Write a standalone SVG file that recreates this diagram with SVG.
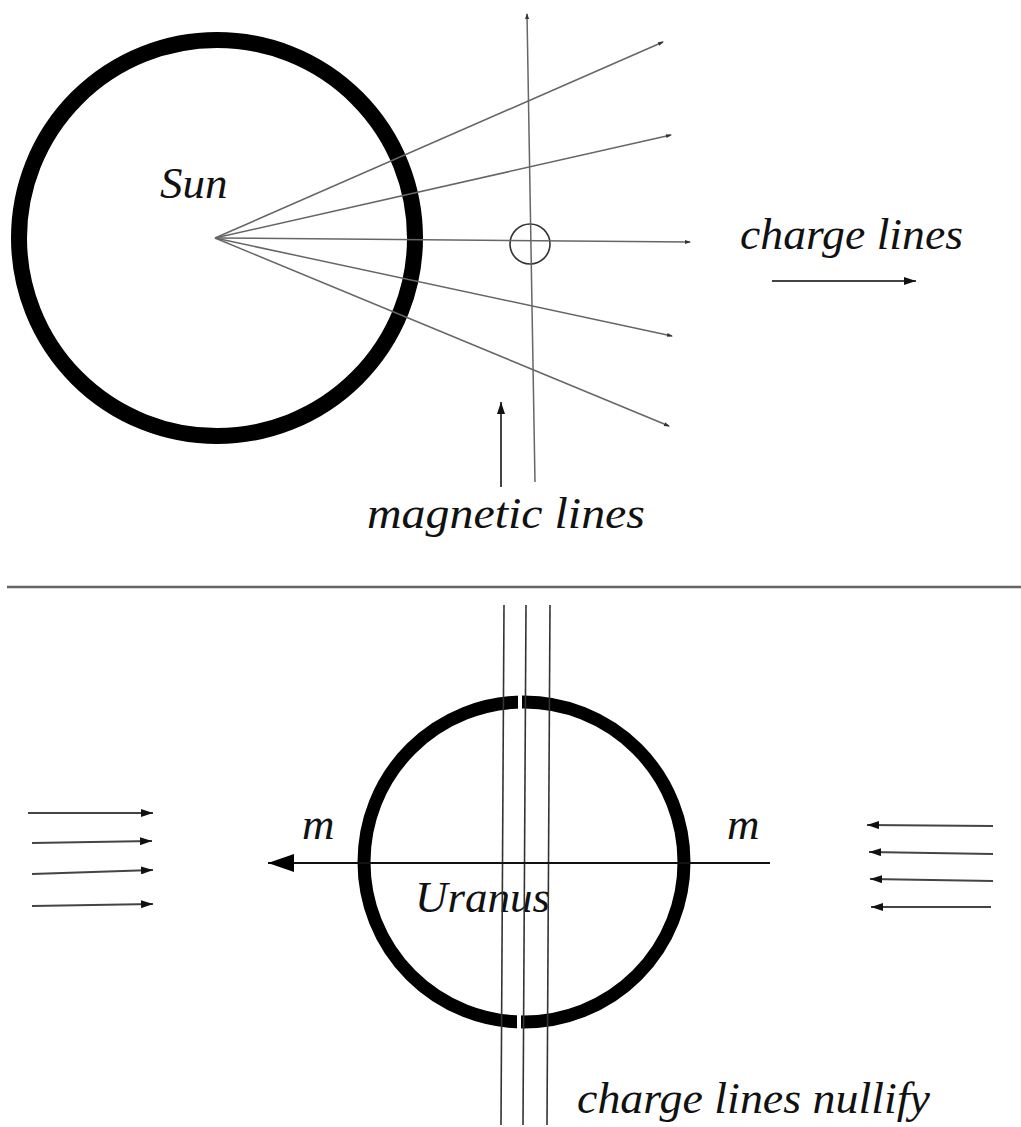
<svg xmlns="http://www.w3.org/2000/svg" width="1021" height="1127" viewBox="0 0 1021 1127">
<defs>
<style>
.t{font-family:"Liberation Serif","Times New Roman",serif;font-style:italic;font-size:45px;fill:#111}
.ray{stroke:#666;stroke-width:1.5;fill:none}
.ring{fill:none;stroke:#000}
.ln{stroke:#333;stroke-width:1.6;fill:none}
.arr{stroke:#444;stroke-width:2;fill:none}
</style>
<marker id="dot" viewBox="0 0 6 6" refX="5" refY="3" markerWidth="6" markerHeight="6" markerUnits="userSpaceOnUse" orient="auto"><path d="M0,1 L6,3 L0,5 Z" fill="#333"/></marker>
<marker id="ah" viewBox="0 0 12 8" refX="12" refY="4" markerWidth="12" markerHeight="8" markerUnits="userSpaceOnUse" orient="auto"><path d="M0,0 L12,4 L0,8 Z" fill="#111"/></marker>
<marker id="big" viewBox="0 0 26 18" refX="26" refY="9" markerWidth="26" markerHeight="18" markerUnits="userSpaceOnUse" orient="auto"><path d="M0,0 L26,9 L0,18 Z" fill="#000"/></marker>
</defs>
<rect width="1021" height="1127" fill="#fff"/>

<g id="sun">
<circle class="ring" cx="217" cy="238" r="198" stroke-width="16"/>
<text class="t" x="160" y="198">Sun</text>
</g>

<g id="probe">
<circle cx="530" cy="244" r="20" fill="none" stroke="#333" stroke-width="1.6"/>
</g>

<g id="uranus">
<circle class="ring" cx="524" cy="862" r="160" stroke-width="13"/>
<rect x="518" y="694" width="4" height="16" fill="#fff"/>
<rect x="517" y="1014" width="4" height="16" fill="#fff"/>
<text class="t" x="415" y="912">Uranus</text>
</g>

<g id="connectors">
<line class="ray" x1="215" y1="238" x2="663" y2="42" marker-end="url(#dot)"/>
<line class="ray" x1="215" y1="238" x2="671" y2="135" marker-end="url(#dot)"/>
<line class="ray" x1="215" y1="238" x2="690" y2="242" marker-end="url(#dot)"/>
<line class="ray" x1="215" y1="238" x2="672" y2="336" marker-end="url(#dot)"/>
<line class="ray" x1="215" y1="238" x2="669" y2="426" marker-end="url(#dot)"/>
<line class="ray" x1="535" y1="482" x2="527" y2="14" marker-end="url(#dot)"/>
<line class="arr" x1="501" y1="487" x2="501" y2="402" marker-end="url(#ah)"/>
<line class="arr" x1="772" y1="281" x2="916" y2="281" marker-end="url(#ah)"/>
<line x1="7" y1="587" x2="1021" y2="587" stroke="#666" stroke-width="2.5"/>
<line class="ln" x1="504" y1="605" x2="501" y2="1125"/>
<line class="ln" x1="526" y1="605" x2="523" y2="1125"/>
<line class="ln" x1="550" y1="605" x2="547" y2="1125"/>
<line x1="770" y1="863" x2="268" y2="863" stroke="#111" stroke-width="2" marker-end="url(#big)"/>
<line class="arr" x1="28" y1="813" x2="153" y2="813" marker-end="url(#ah)"/>
<line class="arr" x1="32" y1="843" x2="152" y2="841" marker-end="url(#ah)"/>
<line class="arr" x1="32" y1="874" x2="153" y2="870" marker-end="url(#ah)"/>
<line class="arr" x1="32" y1="906" x2="153" y2="904" marker-end="url(#ah)"/>
<line class="arr" x1="993" y1="826" x2="867" y2="825" marker-end="url(#ah)"/>
<line class="arr" x1="993" y1="854" x2="869" y2="852" marker-end="url(#ah)"/>
<line class="arr" x1="993" y1="881" x2="870" y2="879" marker-end="url(#ah)"/>
<line class="arr" x1="991" y1="907" x2="871" y2="907" marker-end="url(#ah)"/>
</g>

<g id="labels">
<text class="t" x="740" y="249" textLength="223" lengthAdjust="spacingAndGlyphs">charge lines</text>
<text class="t" x="367" y="528" font-size="46" textLength="278" lengthAdjust="spacingAndGlyphs">magnetic lines</text>
<text class="t" x="302" y="839">m</text>
<text class="t" x="727" y="839">m</text>
<text class="t" x="577" y="1113" textLength="353" lengthAdjust="spacingAndGlyphs">charge lines nullify</text>
</g>
</svg>
